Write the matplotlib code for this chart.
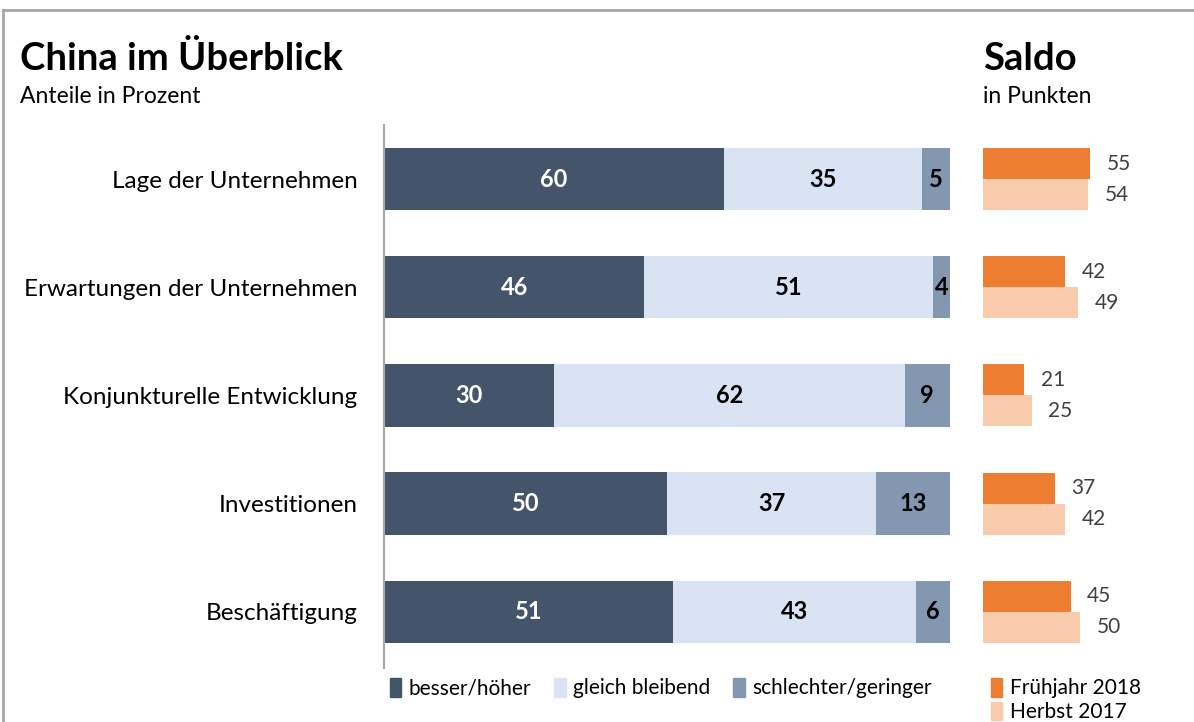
import matplotlib.pyplot as plt
from matplotlib.patches import Patch
from matplotlib.lines import Line2D

plt.rcParams['font.family'] = ['Lato', 'DejaVu Sans']

# data
categories = ['Lage der Unternehmen', 'Erwartungen der Unternehmen',
              'Konjunkturelle Entwicklung', 'Investitionen', 'Beschäftigung']
besser = [60, 46, 30, 50, 51]
gleich = [35, 51, 62, 37, 43]
schlechter = [5, 4, 9, 13, 6]
saldo_2018 = [55, 42, 21, 37, 45]
saldo_2017 = [54, 49, 25, 42, 50]

part_names = ['besser/höher', 'gleich bleibend', 'schlechter/geringer']
part_colors = ['#44546A', '#DAE3F3', '#8497B0']
text_colors = ['white', 'black', 'black']
saldo_names = ['Frühjahr 2018', 'Herbst 2017']
saldo_colors = ['#ED7D31', '#F8CBAD']

W, H = 1194, 722
fig = plt.figure(figsize=(W / 100, H / 100), dpi=100)

# frame lines (top and left) like the original
fig.add_artist(Line2D([3 / W, 3 / W], [0, 1 - 10 / H], color='#A6A6A6', lw=2))
fig.add_artist(Line2D([3 / W, 1], [1 - 10 / H, 1 - 10 / H], color='#A6A6A6', lw=2))

ax_bottom = 1 - 668 / H
ax_height = (668 - 125) / H
ax = fig.add_axes([384 / W, ax_bottom, 566 / W, ax_height])
ax2 = fig.add_axes([983 / W, ax_bottom, 200 / W, ax_height])

y = list(range(len(categories)))

# stacked bars
left = [0] * len(categories)
for vals, name, col, tcol in zip([besser, gleich, schlechter], part_names, part_colors, text_colors):
    bars = ax.barh(y, vals, left=left, height=0.575, color=col, label=name)
    ax.bar_label(bars, labels=[str(v) for v in vals], label_type='center',
                 color=tcol, fontsize=17, fontweight='bold')
    left = [l + v for l, v in zip(left, vals)]

ax.set_xlim(0, 100)
ax.set_ylim(4.52, -0.5)
ax.set_yticks(y)
ax.set_yticklabels(categories, fontsize=17.5)
ax.tick_params(axis='y', length=0, pad=19)
ax.set_xticks([])
for s in ['top', 'right', 'bottom']:
    ax.spines[s].set_visible(False)
ax.spines['left'].set_color('#A6A6A6')
ax.spines['left'].set_linewidth(1.5)

# saldo bars
off = 0.143
b1 = ax2.barh([i - off for i in y], saldo_2018, height=0.286, color=saldo_colors[0], label=saldo_names[0])
b2 = ax2.barh([i + off for i in y], saldo_2017, height=0.286, color=saldo_colors[1], label=saldo_names[1])
for b in (b1, b2):
    ax2.bar_label(b, padding=12, fontsize=15, color='#404040')
ax2.set_xlim(0, 200 / 1.945)
ax2.set_ylim(4.52, -0.5)
ax2.axis('off')

# titles
fig.text(20 / W, 1 - 70 / H, 'China im Überblick', fontsize=27.5, fontweight='bold', va='baseline')
fig.text(20 / W, 1 - 103 / H, 'Anteile in Prozent', fontsize=16.5, va='baseline')
fig.text(983 / W, 1 - 70 / H, 'Saldo', fontsize=27.5, fontweight='bold', va='baseline')
fig.text(983 / W, 1 - 103 / H, 'in Punkten', fontsize=16.5, va='baseline')

# legends
h1 = [Patch(color=c) for c in part_colors]
fig.legend(h1, part_names, loc='upper left', bbox_to_anchor=(390 / W, 1 - 678 / H),
           ncol=3, frameon=False, fontsize=15, handlelength=0.55, handleheight=1.0,
           handletextpad=0.35, columnspacing=1.1, borderaxespad=0, borderpad=0)
h2 = [Patch(color=c) for c in saldo_colors]
fig.legend(h2, saldo_names, loc='upper left', bbox_to_anchor=(991 / W, 1 - 678 / H),
           ncol=1, frameon=False, fontsize=15, handlelength=0.55, handleheight=1.0,
           handletextpad=0.35, labelspacing=0.15, borderaxespad=0, borderpad=0)

fig.savefig('out.png', dpi=100)
